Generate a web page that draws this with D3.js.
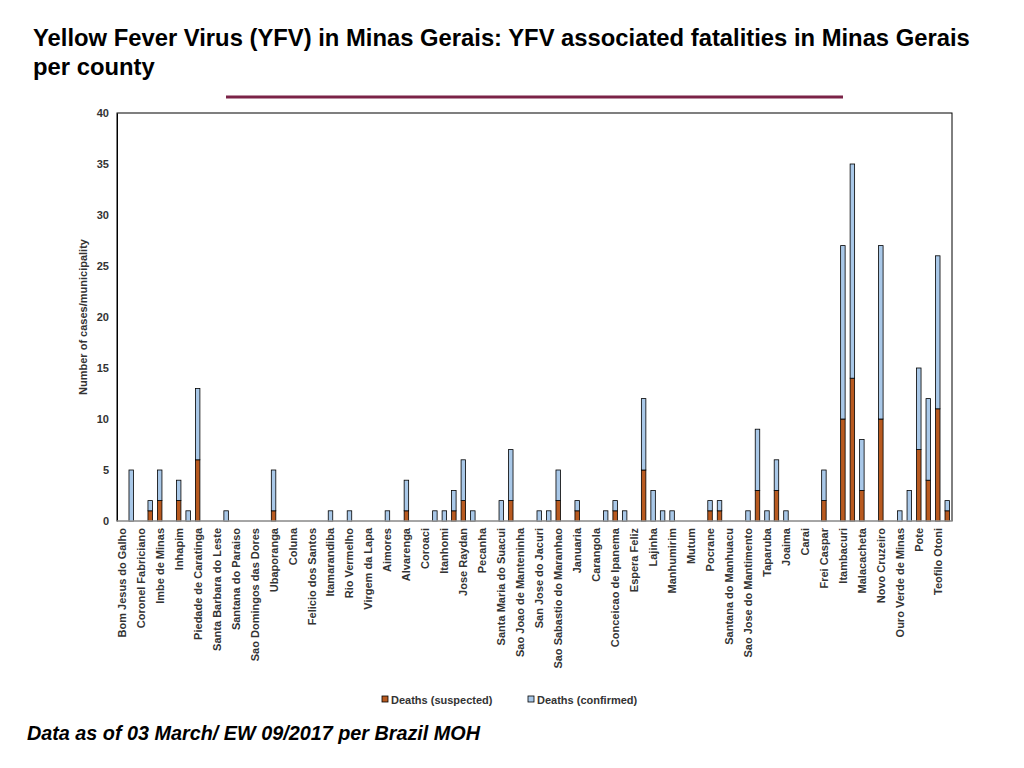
<!DOCTYPE html>
<html>
<head>
<meta charset="utf-8">
<script src="https://cdn.jsdelivr.net/npm/d3@7"></script>
<style>
body { margin: 0; background: #fff; font-family: "Liberation Sans", Arial, sans-serif; }
</style>
</head>
<body>
<div id="chart"></div>
<script>
var names = ["Bom Jesus do Galho", "Coronel  Fabriciano", "Imbe de Minas", "Inhapim", "Piedade de Caratinga",
    "Santa Barbara do Leste", "Santana do Paraiso", "Sao Domingos das Dores", "Ubaporanga", "Coluna",
    "Felicio dos Santos", "Itamarandiba", "Rio Vermelho", "Virgem da Lapa", "Aimores", "Alvarenga",
    "Coroaci", "Itanhomi", "Jose Raydan", "Pecanha", "Santa Maria do Suacui", "Sao Joao de Manteninha",
    "San Jose do Jacuri", "Sao Sabastio do Maranhao", "Januaria", "Carangola", "Conceicao de Ipanema",
    "Espera Feliz", "Lajinha", "Manhumirim", "Mutum", "Pocrane", "Santana do Manhuacu",
    "Sao Jose do Mantimento", "Taparuba", "Joaima", "Carai", "Frei Caspar", "Itambacuri", "Malacacheta",
    "Novo Cruzeiro", "Ouro Verde de Minas", "Pote", "Teofilo Otoni"]

// index: [suspected, confirmed]  (categories with no entry are 0)
var counts = {
    1: [0, 5], 3: [1, 1], 4: [2, 3], 6: [2, 2], 7: [0, 1], 8: [6, 7], 11: [0, 1], 16: [1, 4],
    22: [0, 1], 24: [0, 1], 28: [0, 1], 30: [1, 3], 33: [0, 1], 34: [0, 1], 35: [1, 2], 36: [2, 4],
    37: [0, 1], 40: [0, 2], 41: [2, 5], 44: [0, 1], 45: [0, 1], 46: [2, 3], 48: [1, 1], 51: [0, 1],
    52: [1, 1], 53: [0, 1], 55: [5, 7], 56: [0, 3], 57: [0, 1], 58: [0, 1], 62: [1, 1], 63: [1, 1],
    66: [0, 1], 67: [3, 6], 68: [0, 1], 69: [3, 3], 70: [0, 1], 74: [2, 3], 76: [10, 17], 77: [14, 21],
    78: [3, 5], 80: [10, 17], 82: [0, 1], 83: [0, 3], 84: [7, 8], 85: [4, 8], 86: [11, 15], 87: [1, 1]
}

var data = []
for (var i = 0; i < 88; i++) {
    var c = counts[i] || [0, 0]
    data.push({ idx: i, name: i % 2 == 0 ? names[i / 2] : "", suspected: c[0], confirmed: c[1] })
}

var W = 1024, H = 768
var m = { left: 117, right: 952, top: 113, bottom: 521 }

var svg = d3.select("#chart").append("svg").attr("width", W).attr("height", H)

svg.append("text").attr("x", 33).attr("y", 46).attr("font-size", 23.8).attr("font-weight", "bold")
    .text("Yellow Fever Virus (YFV) in Minas Gerais: YFV associated fatalities in Minas Gerais")
svg.append("text").attr("x", 33).attr("y", 75).attr("font-size", 23.8).attr("font-weight", "bold")
    .text("per county")
svg.append("line").attr("x1", 226).attr("x2", 843).attr("y1", 97).attr("y2", 97)
    .attr("stroke", "#7b2347").attr("stroke-width", 3)

var x = d3.scaleBand().domain(data.map(d => d.idx)).range([m.left, m.right])
var y = d3.scaleLinear().domain([0, 40]).range([m.bottom, m.top])

svg.append("rect").attr("x", m.left).attr("y", m.top).attr("width", m.right - m.left)
    .attr("height", m.bottom - m.top).attr("fill", "none").attr("stroke", "#000").attr("stroke-width", 1)

var yAxis = svg.append("g").attr("transform", "translate(" + m.left + ",0)")
    .call(d3.axisLeft(y).ticks(8).tickSize(0).tickPadding(8))
yAxis.select(".domain").attr("stroke", "#000")
yAxis.selectAll("text").attr("font-size", 11).attr("font-weight", "bold").attr("fill", "#333")
    .attr("font-family", "Liberation Sans, Arial, sans-serif")

svg.append("text").attr("transform", "translate(87," + ((m.top + m.bottom) / 2) + ") rotate(-90)")
    .attr("text-anchor", "middle").attr("font-size", 11).attr("font-weight", "bold").attr("fill", "#333")
    .text("Number of cases/municipality")

var bw = 4.5
var g = svg.append("g")
data.forEach(function (d) {
    var cx = x(d.idx) + x.bandwidth() / 2
    if (d.suspected > 0) {
        g.append("rect").attr("x", cx - bw / 2).attr("width", bw)
            .attr("y", y(d.suspected)).attr("height", y(0) - y(d.suspected))
            .attr("fill", "#b85a20").attr("stroke", "#000").attr("stroke-width", 0.8)
    }
    if (d.confirmed > 0) {
        g.append("rect").attr("x", cx - bw / 2).attr("width", bw)
            .attr("y", y(d.suspected + d.confirmed)).attr("height", y(d.suspected) - y(d.suspected + d.confirmed))
            .attr("fill", "#a9c8e8").attr("stroke", "#000").attr("stroke-width", 0.8)
    }
})

svg.append("line").attr("x1", m.left).attr("x2", m.right).attr("y1", m.bottom).attr("y2", m.bottom)
    .attr("stroke", "#ccc").attr("stroke-width", 1)

svg.append("g").selectAll("text").data(data.filter(d => d.name != "")).enter().append("text")
    .attr("transform", d => "translate(" + (x(d.idx) + x.bandwidth() / 2 + 4) + ",528) rotate(-90)")
    .attr("text-anchor", "end").attr("font-size", 11).attr("font-weight", "bold").attr("fill", "#333")
    .text(d => d.name)

var legend = [["Deaths (suspected)", "#b85a20", 382], ["Deaths (confirmed)", "#a9c8e8", 528]]
legend.forEach(function (l) {
    svg.append("rect").attr("x", l[2]).attr("y", 696).attr("width", 6).attr("height", 6)
        .attr("fill", l[1]).attr("stroke", "#000").attr("stroke-width", 0.8)
    svg.append("text").attr("x", l[2] + 9).attr("y", 704).attr("font-size", 11).attr("font-weight", "bold")
        .attr("fill", "#333").text(l[0])
})

svg.append("text").attr("x", 27).attr("y", 740).attr("font-size", 19.8).attr("font-weight", "bold")
    .attr("font-style", "italic").text("Data as of 03 March/ EW 09/2017 per Brazil MOH")
</script>
</body>
</html>
